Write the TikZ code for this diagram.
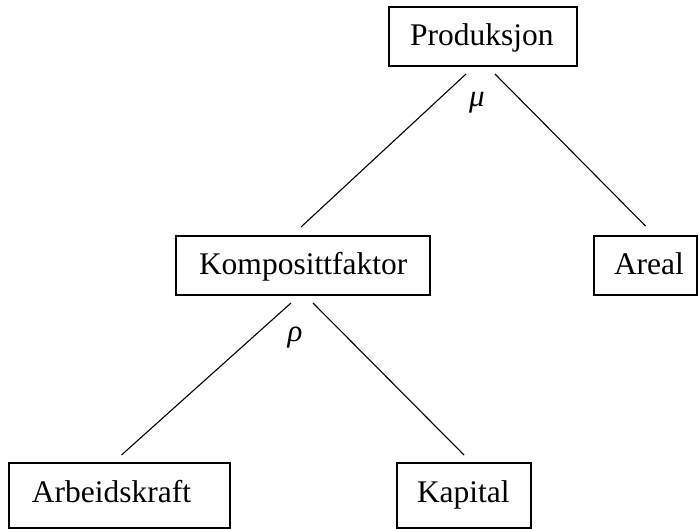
\documentclass[tikz,border=0pt]{standalone}
\usepackage{fontspec}
\setmainfont{Liberation Serif}
\usetikzlibrary{calc}
\tikzset{
  boxnode/.style={draw, line width=1.5pt, anchor=north west, inner xsep=0pt, inner ysep=0pt,
    outer sep=0pt, align=left, font=\fontsize{31.5}{36}\selectfont, text height=21pt, text depth=2pt},
  tallbox/.style={boxnode, text depth=8pt},
  conn/.style={line width=1.1pt},
  greek/.style={font=\fontsize{31}{36}\selectfont\itshape, inner sep=0pt}
}
\begin{document}
\begin{tikzpicture}[x=1pt,y=-1pt]
\useasboundingbox (0,0) rectangle (699,529);
\node[boxnode, minimum width=188pt, minimum height=59pt, text width=188pt] (P) at (389,7) {\hspace*{21pt}Produksjon};
\node[boxnode, minimum width=254pt, minimum height=59pt, text width=254pt] (K) at (176,236) {\hspace*{23pt}Komposittfaktor};
\node[boxnode, minimum width=103pt, minimum height=59pt, text width=103pt] (A) at (594,236) {\hspace*{20pt}Areal};
\node[tallbox, minimum width=221pt, minimum height=65pt, text width=221pt] (W) at (9,463) {\hspace*{23pt}Arbeidskraft};
\node[tallbox, minimum width=134pt, minimum height=65pt, text width=134pt] (C) at (397,463) {\hspace*{20pt}Kapital};

\node[greek] (mu) at (477,103) {μ};
\node[greek] (rho) at (295,338) {ρ};

\coordinate (pl) at ($(P.south)+(-17,8)$);
\coordinate (pr) at ($(P.south)+(12,8)$);
\coordinate (kt) at ($(K.north)+(-2,-9)$);
\coordinate (at) at ($(A.north)+(0,-10)$);
\coordinate (kl) at ($(K.south)+(-12,8)$);
\coordinate (kr) at ($(K.south)+(10,8)$);
\coordinate (wt) at ($(W.north)+(2,-8)$);
\coordinate (ct) at ($(C.north)+(0,-8)$);
\draw[conn] (pl) -- (kt);
\draw[conn] (pr) -- (at);
\draw[conn] (kl) -- (wt);
\draw[conn] (kr) -- (ct);
\end{tikzpicture}
\end{document}
